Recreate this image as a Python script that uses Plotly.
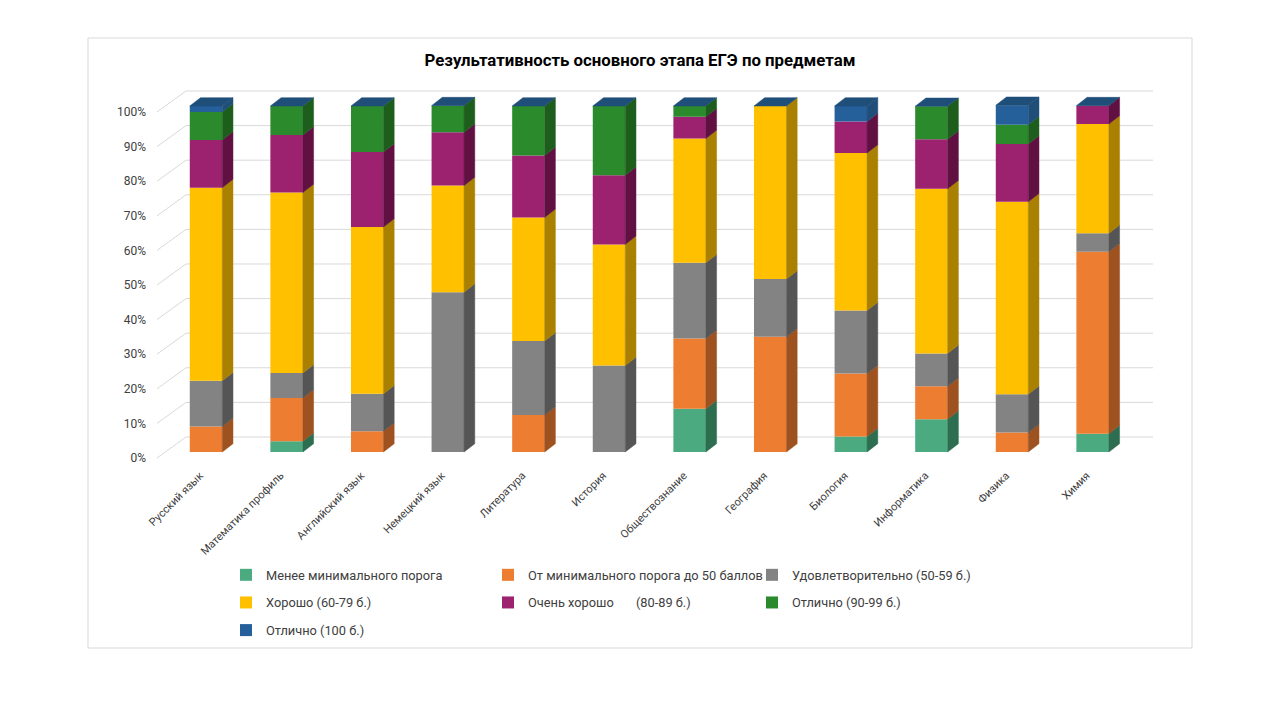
import plotly.graph_objects as go

subjects = ["Русский язык", "Математика профиль", "Английский язык", "Немецкий язык",
            "Литература", "История", "Обществознание", "География", "Биология",
            "Информатика", "Физика", "Химия"]

# доли результатов, %
below_min = [0, 3.1, 0, 0, 0, 0, 12.5, 0, 4.5, 9.5, 0, 5.3]
to_50 = [7.4, 12.5, 6.0, 0, 10.7, 0, 20.3, 33.3, 18.2, 9.5, 5.6, 52.6]
satisf = [13.2, 7.2, 10.8, 46.2, 21.4, 25.0, 21.9, 16.7, 18.2, 9.5, 11.1, 5.3]
good = [55.8, 52.2, 48.2, 30.8, 35.7, 35.0, 35.9, 50.0, 45.5, 47.6, 55.6, 31.6]
very_good = [13.8, 16.6, 21.7, 15.4, 17.9, 20.0, 6.3, 0, 9.1, 14.3, 16.7, 5.3]
excellent = [8.1, 8.4, 13.3, 7.7, 14.3, 20.0, 3.1, 0, 0, 9.5, 5.6, 0]
perfect = [1.7, 0, 0, 0, 0, 0, 0, 0, 4.5, 0, 5.6, 0]

series_names = ["Менее минимального порога", "От минимального порога до 50 баллов",
                "Удовлетворительно (50-59 б.)", "Хорошо (60-79 б.)",
                "Очень хорошо       (80-89 б.)", "Отлично (90-99 б.)", "Отлично (100 б.)"]
series = [below_min, to_50, satisf, good, very_good, excellent, perfect]
front_colors = ["#4CAA80", "#ED7D31", "#838383", "#FFC000", "#9C2270", "#2B8A2B", "#25609A"]
side_colors = ["#2D6E50", "#9E5220", "#555555", "#AA8000", "#601142", "#1D5E1D", "#1F4E79"]
legend_of = ["legend", "legend2", "legend3", "legend", "legend2", "legend3", "legend"]

yticks = list(range(0, 101, 10))

# геометрия "3D"
W = 0.403     # ширина столбца
DX = 0.133    # глубина по x
DY = 2.4      # глубина по y (в %)
S = 8         # отступ страницы
L, R, T, B = 155 - S, 1160 - S, 86 - S, 462 - S
xr = [-0.633, 11.836]
yr = [-2.89, 105.78]

fig = go.Figure()

xs = list(range(len(subjects)))
bottom = [0] * len(subjects)
for name, vals, fc, sc, lg in zip(series_names, series, front_colors, side_colors, legend_of):
    fig.add_trace(go.Bar(x=xs, y=vals, base=bottom, name=name, width=W,
                         marker=dict(color=fc, line=dict(width=0)),
                         legend=lg, legendgroup=name))
    px, py = [], []
    for i in xs:
        b, t = bottom[i], bottom[i] + vals[i]
        if t > b:
            x0 = i + W / 2
            px += [x0, x0 + DX, x0 + DX, x0, x0, None]
            py += [b, b + DY, t + DY, t, b, None]
    fig.add_trace(go.Scatter(x=px, y=py, mode="lines", fill="toself", fillcolor=sc,
                             line=dict(color=sc, width=0.5), showlegend=False,
                             hoverinfo="skip"))
    bottom = [bottom[i] + vals[i] for i in xs]

# верхние грани
tx, ty = [], []
for i in xs:
    t = bottom[i]
    tx += [i - W / 2, i - W / 2 + DX, i + W / 2 + DX, i + W / 2, i - W / 2, None]
    ty += [t, t + DY, t + DY, t, t, None]
fig.add_trace(go.Scatter(x=tx, y=ty, mode="lines", fill="toself", fillcolor="#1F4E79",
                         line=dict(color="#1F4E79", width=0.5), showlegend=False,
                         hoverinfo="skip"))

# ось подписей
fig.add_trace(go.Scatter(x=[None], y=[None], yaxis="y2", showlegend=False))

shapes = []
for v in yticks:
    shapes.append(dict(type="line", xref="x", yref="y", layer="below",
                       x0=-0.248, x1=11.75, y0=v + 4.34, y1=v + 4.34,
                       line=dict(color="#D9D9D9", width=1)))
    shapes.append(dict(type="line", xref="x", yref="y", layer="below",
                       x0=-0.608, x1=-0.248, y0=v - 1.73, y1=v + 4.34,
                       line=dict(color="#D9D9D9", width=1)))
pw, ph = R - L, B - T
shapes.append(dict(type="rect", xref="paper", yref="paper", layer="below",
                   x0=(88 - S - L) / pw, x1=(1192 - S - L) / pw,
                   y0=(B - (648 - S)) / ph, y1=(B - (38 - S)) / ph,
                   line=dict(color="#D9D9D9", width=1)))

leg_font = dict(family="Roboto, Arial", size=12.8, color="#404040")


def leg(xpix):
    return dict(x=(xpix - S - L) / pw, y=(B - (560 - S)) / ph, xanchor="left", yanchor="top",
                orientation="v", font=leg_font, tracegroupgap=8,
                bgcolor="rgba(0,0,0,0)", itemclick=False)


fig.update_layout(
    width=1280, height=720,
    margin=dict(l=L, r=1280 - R, t=T, b=720 - B),
    paper_bgcolor="white", plot_bgcolor="white",
    barmode="overlay",
    title=dict(text="<b>Результативность основного этапа ЕГЭ по предметам</b>",
               x=(640 - S) / 1280, xref="container", xanchor="center",
               y=1 - (60 - S) / 720, yref="container", yanchor="middle",
               font=dict(family="Roboto, Arial", size=16.8, color="#000000")),
    xaxis=dict(range=xr, tickvals=xs, ticktext=subjects, tickangle=-45,
               showgrid=False, zeroline=False, showline=False,
               tickfont=dict(family="Roboto, Arial", size=11, color="#404040"),
               ticklabelshift=-6, ticklabelstandoff=4),
    yaxis=dict(range=yr, showgrid=False, zeroline=False, showticklabels=False),
    yaxis2=dict(range=[yr[0] + 1.73, yr[1] + 1.73], overlaying="y", side="left",
                anchor="x", showgrid=False, zeroline=False,
                tickvals=yticks, ticktext=[f"{v}%" for v in yticks],
                tickfont=dict(family="Roboto, Arial", size=12, color="#404040"),
                ticklabelstandoff=8),
    shapes=shapes,
    legend=leg(226),
    legend2=leg(488),
    legend3=leg(752),
)

fig.write_html("out.html")
